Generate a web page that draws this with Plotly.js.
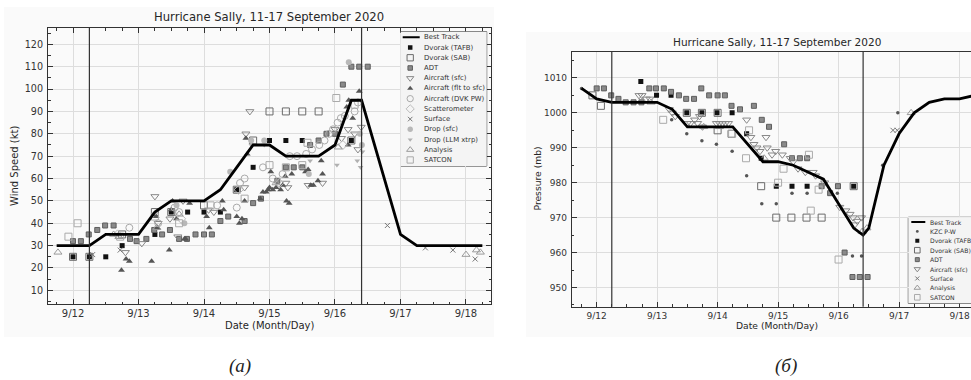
<!DOCTYPE html>
<html><head><meta charset="utf-8">
<script src="https://cdn.plot.ly/plotly-3.0.1.min.js"></script>
<style>html,body{margin:0;padding:0;background:#fff;}#chart{width:971px;height:380px;}</style>
</head><body><div id="chart"></div>
<script>
// ---------- shared ----------
const dayTicks = [12, 13, 14, 15, 16, 17, 18];
const dayLabels = ['9/12', '9/13', '9/14', '9/15', '9/16', '9/17', '9/18'];
const eventTimes = [12.25, 16.406];
const chartTitle = 'Hurricane Sally, 11-17 September 2020';

// ---------- (a) wind speed, kt ----------
const bestX = [11.75, 12.25, 12.5, 13.0, 13.25, 13.5, 14.0, 14.25, 14.5, 14.75, 15.0, 15.25, 15.75, 16.0, 16.25, 16.406, 17.0, 17.25, 18.25];
const bestWind = [30, 30, 35, 35, 45, 50, 50, 55, 65, 75, 75, 70, 70, 75, 95, 95, 35, 30, 30];

const tafbX = [12.0, 12.25, 12.5, 12.75, 13.25, 13.5, 13.75, 14.0, 14.25, 14.5, 14.75, 15.0, 15.25, 15.5, 16.25];
const tafbWind = [25, 25, 25, 30, 35, 45, 45, 45, 45, 55, 65, 77, 77, 77, 77];

const sabX = [12.0, 12.25, 12.75, 13.25, 13.5, 14.0, 14.5, 14.75, 15.0, 15.25, 15.5, 15.75, 16.25];
const sabWind = [25, 25, 35, 45, 45, 48, 55, 77, 90, 90, 90, 90, 77];

const adtX = [12.0, 12.12, 12.24, 12.37, 12.49, 12.62, 12.87, 12.97, 13.12, 13.24, 13.36, 13.48, 13.62, 13.74, 13.87, 14.0, 14.12, 14.25, 14.37, 14.62, 14.75, 14.87, 15.12, 15.25, 15.37, 15.5, 15.62, 15.75, 15.87, 16.0, 16.12, 16.25, 16.37, 16.5];
const adtWind = [32, 32, 35, 37, 39, 39, 33, 32, 33, 37, 35, 37, 33, 33, 35, 35, 35, 41, 43, 41, 49, 51, 59, 65, 65, 65, 75, 77, 80, 80, 102, 110, 110, 110];

const acSfcX = [12.8, 13.05, 13.25, 13.3, 13.48, 13.6, 13.68, 14.07, 14.15, 14.62, 14.64, 14.7, 15.25, 15.28, 15.59, 15.81, 16.0, 16.1, 16.2, 16.3, 16.35, 16.4];
const acSfcWind = [27, 31, 52, 40, 42, 34, 50, 46, 45, 56, 80, 90, 58, 56, 57, 58, 82, 78, 82, 80, 73, 83];

const acFltX = [12.74, 12.81, 12.86, 13.2, 13.27, 13.29, 13.47, 13.5, 13.52, 13.58, 13.7, 13.72, 13.78, 14.04, 14.08, 14.28, 14.3, 14.5, 14.54, 14.58, 14.62, 14.64, 14.66, 14.86, 14.9, 14.95, 14.98, 15.0, 15.02, 15.05, 15.1, 15.17, 15.2, 15.24, 15.26, 15.3, 15.34, 15.55, 15.59, 15.63, 15.67, 15.74, 15.79, 15.81, 16.2, 16.18, 16.21, 16.27, 16.37];
const acFltWind = [19, 24, 23, 23, 43, 38, 28, 46, 50, 42, 33, 33, 49, 43, 38, 50, 46, 43, 40, 42, 50, 78, 71, 51, 54, 54, 55, 56, 63, 55, 56, 55, 57, 61, 50, 49, 62, 63, 64, 57, 57, 59, 68, 62, 75, 92, 95, 87, 99];

const dvkX = [12.86, 13.3, 13.55, 13.62, 14.2, 14.5, 14.55, 14.62, 14.9, 15.05, 15.2, 15.31, 15.42, 15.56, 15.65, 15.76, 15.84, 15.91, 15.97, 16.04, 16.09, 16.15, 16.3, 16.35];
const dvkWind = [38, 40, 47, 45, 48, 47, 58, 60, 65, 60, 62, 70, 70, 71, 73, 75, 77, 80, 82, 85, 87, 88, 90, 94];

const scatX = [12.68, 13.65, 14.53, 15.15, 16.12];
const scatWind = [35, 42, 55, 58, 75];

const sfcX = [12.3, 12.72, 16.8, 17.38, 17.8, 18.14];
const sfcWind = [26, 28, 39, 29, 28, 24];

const dropSfcX = [13.58, 13.7, 14.4, 14.72, 14.92, 15.6, 16.21, 16.38, 16.41];
const dropSfcWind = [48, 40, 63, 77, 77, 62, 112, 80, 75];

const dropLlmX = [14.72, 14.92, 15.62, 16.03, 16.34, 16.39, 16.42];
const dropLlmWind = [75, 75, 68, 66, 68, 65, 72];

const analX = [11.77, 12.62, 12.7, 13.28, 13.62, 15.1, 16.05, 18.0, 18.16, 18.22];
const analWind = [27, 35, 34, 38, 44, 58, 74, 26, 28, 27];

const satconX = [11.93, 12.07, 12.72, 13.25, 13.62, 14.1, 14.62, 15.0, 15.25, 15.5, 15.58, 16.02, 16.3];
const satconWind = [34, 40, 34, 43, 40, 48, 51, 66, 65, 66, 76, 96, 93];

// ---------- (б) pressure, mb ----------
const bestPX = [11.75, 12.0, 12.25, 13.0, 13.25, 13.5, 14.25, 14.75, 15.0, 15.25, 15.5, 15.75, 16.0, 16.25, 16.406, 16.5, 16.75, 17.0, 17.25, 17.5, 17.75, 18.0, 18.25];
const bestPres = [1007, 1004, 1003, 1003, 1001, 996, 996, 986, 986, 985, 983, 981, 974, 967, 965, 967, 985, 994, 1000, 1003, 1004, 1004, 1005];

const kzcX = [11.75, 13.24, 13.49, 13.74, 13.98, 14.24, 14.48, 14.73, 14.97, 15.23, 15.48, 15.98, 16.23, 16.38, 16.73, 16.98];
const kzcPres = [1007, 998, 994, 992, 991, 989, 982, 974, 974, 977, 977, 977, 959, 959, 985, 1000];

const tafbPX = [12.73, 12.99, 13.23, 13.49, 13.74, 13.99, 14.24, 14.48, 14.72, 14.97, 15.23, 15.48, 15.99, 16.25];
const tafbPres = [1009, 1005, 1005, 1000, 1000, 1000, 1000, 994, 987, 979, 979, 979, 979, 979];

const sabPX = [11.93, 12.07, 13.49, 13.74, 14.0, 14.0, 14.23, 14.72, 14.97, 15.22, 15.47, 15.72, 16.25];
const sabPres = [1005, 1002, 1000, 1000, 1000, 995, 994, 979, 970, 970, 970, 970, 979];

const adtPX = [12.0, 12.12, 12.24, 12.36, 12.48, 12.61, 12.74, 12.87, 12.98, 13.11, 13.23, 13.36, 13.48, 13.61, 13.73, 13.86, 14.0, 14.12, 14.23, 14.37, 14.6, 14.73, 14.85, 15.1, 15.23, 15.36, 15.48, 15.72, 15.86, 15.99, 16.1, 16.23, 16.35, 16.48];
const adtPres = [1007, 1007, 1005, 1004, 1003, 1003, 1003, 1007, 1007, 1007, 1006, 1005, 1004, 1004, 1007, 1005, 1005, 1005, 1002, 1001, 1002, 998, 996, 991, 987, 987, 987, 979, 977, 979, 960, 953, 953, 953];

const acSfcPX = [12.7, 12.75, 12.82, 12.88, 13.2, 13.25, 13.3, 13.5, 13.55, 13.62, 13.67, 13.7, 13.75, 13.98, 14.03, 14.08, 14.13, 14.18, 14.48, 14.55, 14.6, 14.65, 14.7, 14.8, 14.82, 14.9, 14.96, 15.07, 15.2, 15.25, 15.33, 15.45, 15.58, 15.62, 15.77, 16.02, 16.12, 16.19, 16.24, 16.27, 16.31, 16.38];
const acSfcPres = [1005, 1005, 1004, 1004, 1001, 1000, 999, 997, 997, 998, 997, 999, 996, 997, 997, 997, 997, 997, 998, 993, 991, 990, 989, 993, 990, 988, 989, 988, 987, 986, 984, 983, 983, 982, 980, 973, 972, 971, 970, 968, 969, 970];

const sfcPX = [16.9, 16.97];
const sfcPres = [995, 995];

const analPX = [12.9, 13.77, 14.03, 14.77, 16.39, 16.47, 17.2];
const analPres = [1003, 996, 996, 987, 966, 967, 1000];

const satconPX = [13.1, 14.24, 14.47, 14.52, 15.0, 15.09, 15.51, 15.54, 15.67, 16.0];
const satconPres = [998, 994, 987, 995, 980, 984, 988, 972, 978, 958];

// ---------- styles ----------
const ST = {
  best:   {mode: 'lines', line: {color: '#000', width: 2.8}},
  kzc:    {mode: 'markers', marker: {symbol: 'circle', size: 3.5, color: '#555'}},
  tafb:   {mode: 'markers', marker: {symbol: 'square', size: 5, color: '#111'}},
  sab:    {mode: 'markers', marker: {symbol: 'square-open', size: 7, color: '#6a6a6a', line: {width: 1}}},
  adt:    {mode: 'markers', marker: {symbol: 'square', size: 5, color: '#8a8a8a', line: {color: '#5e5e5e', width: 1}}},
  acSfc:  {mode: 'markers', marker: {symbol: 'triangle-down-open', size: 7, color: '#888', line: {width: 1}}},
  acFlt:  {mode: 'markers', marker: {symbol: 'triangle-up', size: 6, color: '#555'}},
  dvk:    {mode: 'markers', marker: {symbol: 'circle-open', size: 7, color: '#aaa', line: {width: 1}}},
  scat:   {mode: 'markers', marker: {symbol: 'diamond-open', size: 7, color: '#bbb', line: {width: 1}}},
  sfc:    {mode: 'markers', marker: {symbol: 'x-thin-open', size: 5, color: '#777', line: {color: '#777', width: 1}}},
  dropSfc:{mode: 'markers', marker: {symbol: 'circle', size: 6, color: '#b8b8b8'}},
  dropLlm:{mode: 'markers', marker: {symbol: 'triangle-down', size: 5, color: '#b0b0b0'}},
  anal:   {mode: 'markers', marker: {symbol: 'triangle-up-open', size: 7, color: '#9a9a9a', line: {width: 1}}},
  satcon: {mode: 'markers', marker: {symbol: 'square-open', size: 7, color: '#aaa', line: {width: 1}}}
};

const seriesA = [
  {name: 'Best Track', x: bestX, y: bestWind, st: 'best'},
  {name: 'Dvorak (TAFB)', x: tafbX, y: tafbWind, st: 'tafb'},
  {name: 'Dvorak (SAB)', x: sabX, y: sabWind, st: 'sab'},
  {name: 'ADT', x: adtX, y: adtWind, st: 'adt'},
  {name: 'Aircraft (sfc)', x: acSfcX, y: acSfcWind, st: 'acSfc'},
  {name: 'Aircraft (flt to sfc)', x: acFltX, y: acFltWind, st: 'acFlt'},
  {name: 'Aircraft (DVK PW)', x: dvkX, y: dvkWind, st: 'dvk'},
  {name: 'Scatterometer', x: scatX, y: scatWind, st: 'scat'},
  {name: 'Surface', x: sfcX, y: sfcWind, st: 'sfc'},
  {name: 'Drop (sfc)', x: dropSfcX, y: dropSfcWind, st: 'dropSfc'},
  {name: 'Drop (LLM xtrp)', x: dropLlmX, y: dropLlmWind, st: 'dropLlm'},
  {name: 'Analysis', x: analX, y: analWind, st: 'anal'},
  {name: 'SATCON', x: satconX, y: satconWind, st: 'satcon'}
];
const seriesB = [
  {name: 'Best Track', x: bestPX, y: bestPres, st: 'best'},
  {name: 'KZC P-W', x: kzcX, y: kzcPres, st: 'kzc'},
  {name: 'Dvorak (TAFB)', x: tafbPX, y: tafbPres, st: 'tafb'},
  {name: 'Dvorak (SAB)', x: sabPX, y: sabPres, st: 'sab'},
  {name: 'ADT', x: adtPX, y: adtPres, st: 'adt'},
  {name: 'Aircraft (sfc)', x: acSfcPX, y: acSfcPres, st: 'acSfc'},
  {name: 'Surface', x: sfcPX, y: sfcPres, st: 'sfc'},
  {name: 'Analysis', x: analPX, y: analPres, st: 'anal'},
  {name: 'SATCON', x: satconPX, y: satconPres, st: 'satcon'}
];

// ---------- build ----------
const W = 971, H = 380;
const fx = p => p / W, fy = p => 1 - p / H;
const traces = [];
function addSeries(list, xa, ya) {
  list.slice(1).forEach(s => traces.push(Object.assign({type: 'scatter', x: s.x, y: s.y, xaxis: xa, yaxis: ya, hoverinfo: 'skip', cliponaxis: true}, JSON.parse(JSON.stringify(ST[s.st])))));
  const b = list[0];
  traces.push(Object.assign({type: 'scatter', x: b.x, y: b.y, xaxis: xa, yaxis: ya, hoverinfo: 'skip'}, ST.best));
}
addSeries(seriesA, 'x', 'y');
addSeries(seriesB, 'x2', 'y2');

const annotations = [];
// custom legends (symbol column + labels), rows from the series names
function addLegend(list, xa, ya, symX, lineX, textX, fsize, msc) {
  list.forEach((s, i) => {
    const st = JSON.parse(JSON.stringify(ST[s.st]));
    if (s.st === 'best') {
      traces.push(Object.assign({type: 'scatter', x: lineX, y: [i, i], xaxis: xa, yaxis: ya, hoverinfo: 'skip'}, st, {line: {color: '#000', width: 2}}));
    } else {
      st.marker.size = st.marker.size * msc;
      traces.push(Object.assign({type: 'scatter', x: [symX], y: [i], xaxis: xa, yaxis: ya, hoverinfo: 'skip'}, st));
    }
    annotations.push({text: s.name, x: textX, y: i, xref: xa, yref: ya, xanchor: 'left', yanchor: 'middle', showarrow: false, font: {size: fsize, color: '#333'}});
  });
}
addLegend(seriesA, 'x3', 'y3', 9.5, [2, 19], 21.6, 6.9, 0.9);
addLegend(seriesB, 'x4', 'y4', 9, [3, 17], 20.0, 6.1, 0.8);

const txt = (t, x, y, size, extra) => Object.assign({text: t, x: fx(x), y: fy(y), xref: 'paper', yref: 'paper', showarrow: false, xanchor: 'center', yanchor: 'middle', font: {size: size, color: '#262626'}}, extra || {});
annotations.push(txt(chartTitle, 269, 17.3, 11.6));
annotations.push(txt(chartTitle, 776.7, 42.3, 10.5));
annotations.push(txt('Wind Speed (kt)', 14, 166, 10, {textangle: -90}));
annotations.push(txt('Date (Month/Day)', 269, 325.7, 10));
annotations.push(txt('Pressure (mb)', 536.5, 179, 9.2, {textangle: -90}));
annotations.push(txt('Date (Month/Day)', 776.7, 325.7, 9.2));
annotations.push(txt('<i>(a)</i>', 239.5, 366, 19, {font: {family: 'Liberation Serif', size: 19, color: '#222'}}));
annotations.push(txt('<i>(б)</i>', 786, 366, 19, {font: {family: 'Liberation Serif', size: 19, color: '#222'}}));

const shapes = [
  {type: 'rect', xref: 'paper', yref: 'paper', x0: fx(4), x1: fx(494), y0: fy(337), y1: fy(7), fillcolor: '#fafafa', line: {width: 0}, layer: 'below'},
  {type: 'rect', xref: 'paper', yref: 'paper', x0: fx(526), x1: 1.02, y0: fy(337), y1: fy(32), fillcolor: '#fafafa', line: {width: 0}, layer: 'below'},
  {type: 'rect', xref: 'x3 domain', yref: 'y3 domain', x0: 0, x1: 1, y0: 0, y1: 1, fillcolor: '#fefefe', line: {color: '#333', width: 1}, layer: 'below'},
  {type: 'rect', xref: 'paper', yref: 'paper', x0: fx(908.3), x1: 1.05, y0: fy(303.3), y1: fy(217.3), fillcolor: '#fefefe', line: {color: '#333', width: 1}, layer: 'below'}
];
eventTimes.forEach(t => {
  shapes.push({type: 'line', xref: 'x', yref: 'y domain', x0: t, x1: t, y0: 0, y1: 1, line: {color: '#333', width: 1.2}});
  shapes.push({type: 'line', xref: 'x2', yref: 'y2 domain', x0: t, x1: t, y0: 0, y1: 1, line: {color: '#333', width: 1.2}});
});

const baseAx = (fs) => ({ticks: 'inside', ticklen: 5, tickcolor: '#333', showline: true, linecolor: '#333', linewidth: 1,
  showgrid: true, gridcolor: '#dddddd', gridwidth: 1, zeroline: false, fixedrange: true, tickfont: {size: fs, color: '#333'}});
const hidden = {visible: false, fixedrange: true, showgrid: false, zeroline: false};

const layout = {
  width: W, height: H, margin: {l: 0, r: 0, t: 0, b: 0}, showlegend: false,
  paper_bgcolor: '#ffffff', plot_bgcolor: '#f4f4f4',
  font: {family: 'DejaVu Sans', color: '#333'},
  xaxis: Object.assign(baseAx(10), {domain: [fx(48), fx(491)], range: [11.618, 18.382], tickmode: 'array', tickvals: dayTicks, ticktext: dayLabels, mirror: 'ticks', anchor: 'y',
    minor: {tickmode: 'linear', tick0: 12, dtick: 0.25, ticks: 'inside', ticklen: 2.5, tickcolor: '#333', showgrid: false}}),
  yaxis: Object.assign(baseAx(9.6), {domain: [fy(304), fy(28)], range: [3.9, 127.3], tickmode: 'linear', tick0: 0, dtick: 10, mirror: 'ticks', anchor: 'x', ticklabelstandoff: 2,
    minor: {tickmode: 'linear', tick0: 0, dtick: 5, ticks: 'inside', ticklen: 2.5, tickcolor: '#333', showgrid: false}}),
  xaxis2: Object.assign(baseAx(9), {domain: [fx(571.7), 1], range: [11.587, 18.19], tickmode: 'array', tickvals: dayTicks, ticktext: dayLabels, mirror: true, anchor: 'y2',
    minor: {tickmode: 'linear', tick0: 12, dtick: 0.25, ticks: 'inside', ticklen: 2.5, tickcolor: '#333', showgrid: false}}),
  yaxis2: Object.assign(baseAx(9), {domain: [fy(306.7), fy(51.7)], range: [944.5, 1017.5], tickmode: 'linear', tick0: 950, dtick: 10, mirror: false, anchor: 'x2', ticklabelstandoff: 2,
    minor: {tickmode: 'linear', tick0: 945, dtick: 5, ticks: 'inside', ticklen: 2.5, tickcolor: '#333', showgrid: false}}),
  xaxis3: Object.assign({}, hidden, {domain: [fx(400.7), fx(486.7)], range: [0, 86], anchor: 'y3'}),
  yaxis3: Object.assign({}, hidden, {domain: [fy(166), fy(31.7)], range: [12.59, -0.55], anchor: 'x3'}),
  xaxis4: Object.assign({}, hidden, {domain: [fx(908.3), 1], range: [0, 62.7], anchor: 'y4'}),
  yaxis4: Object.assign({}, hidden, {domain: [fy(303.3), fy(217.3)], range: [8.64, -0.5], anchor: 'x4'}),
  shapes: shapes, annotations: annotations
};

Plotly.newPlot('chart', traces, layout, {staticPlot: true, displayModeBar: false});
</script></body></html>
